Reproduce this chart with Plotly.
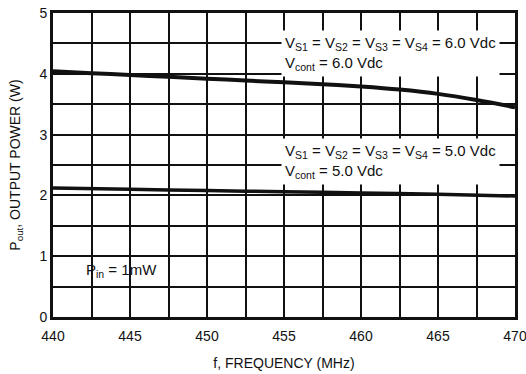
import plotly.graph_objects as go

freq_6v = [440, 442.5, 445, 447.5, 450, 452.5, 455, 457.5, 460, 462.5, 465, 467.5, 470]
pout_6v = [4.04, 4.01, 3.98, 3.95, 3.92, 3.89, 3.86, 3.83, 3.79, 3.74, 3.67, 3.57, 3.45]

freq_5v = [440, 445, 450, 455, 460, 465, 470]
pout_5v = [2.12, 2.10, 2.08, 2.06, 2.04, 2.02, 1.99]

x_ticks = [440, 445, 450, 455, 460, 465, 470]
y_ticks = [0, 1, 2, 3, 4, 5]

FONT = "Liberation Sans, Arial, Helvetica"
INK = "#111111"

fig = go.Figure()
fig.add_trace(go.Scatter(x=freq_6v, y=pout_6v, mode="lines",
                         line=dict(color=INK, width=4, shape="spline"), showlegend=False))
fig.add_trace(go.Scatter(x=freq_5v, y=pout_5v, mode="lines",
                         line=dict(color=INK, width=3.5, shape="spline"), showlegend=False))

ann_font = dict(family=FONT, size=15, color=INK)
fig.add_annotation(x=454.8, y=4.33, xref="x", yref="y", xanchor="left", yanchor="middle",
                   align="left", showarrow=False, bgcolor="white", borderpad=3,
                   text="V<sub>S1</sub> = V<sub>S2</sub> = V<sub>S3</sub> = V<sub>S4</sub> = 6.0 Vdc<br>V<sub>cont</sub> = 6.0 Vdc",
                   font=ann_font)
fig.add_annotation(x=454.8, y=2.55, xref="x", yref="y", xanchor="left", yanchor="middle",
                   align="left", showarrow=False, bgcolor="white", borderpad=3,
                   text="V<sub>S1</sub> = V<sub>S2</sub> = V<sub>S3</sub> = V<sub>S4</sub> = 5.0 Vdc<br>V<sub>cont</sub> = 5.0 Vdc",
                   font=ann_font)
fig.add_annotation(x=442.0, y=0.77, xref="x", yref="y", xanchor="left", yanchor="middle",
                   showarrow=False, text="P<sub>in</sub> = 1mW", font=ann_font)

fig.update_xaxes(range=[440, 470], tickvals=x_ticks, ticktext=[str(v) for v in x_ticks],
                 showgrid=True, gridcolor=INK, gridwidth=2,
                 minor=dict(dtick=2.5, tick0=440, showgrid=True, gridcolor=INK, gridwidth=2),
                 showline=True, linecolor=INK, linewidth=3, mirror=True, zeroline=False,
                 automargin=False, ticklabeloverflow="allow",
                 ticks="", ticklabelstandoff=4, tickfont=dict(family=FONT, size=14, color=INK),
                 title=dict(text="f, FREQUENCY (MHz)", font=dict(family=FONT, size=14, color=INK), standoff=16))
fig.update_yaxes(range=[0, 5], tickvals=y_ticks, ticktext=[str(v) for v in y_ticks],
                 showgrid=True, gridcolor=INK, gridwidth=2,
                 minor=dict(dtick=0.5, tick0=0, showgrid=True, gridcolor=INK, gridwidth=2),
                 showline=True, linecolor=INK, linewidth=3, mirror=True, zeroline=False,
                 automargin=False, ticklabeloverflow="allow",
                 ticks="", tickfont=dict(family=FONT, size=14, color=INK),
                 title=dict(text="P<sub>out</sub>, OUTPUT POWER (W)", font=dict(family=FONT, size=14, color=INK), standoff=16))

fig.update_layout(width=526, height=374, margin=dict(l=53, r=11, t=13, b=57),
                  plot_bgcolor="white", paper_bgcolor="white")

fig.write_html("out.html")
